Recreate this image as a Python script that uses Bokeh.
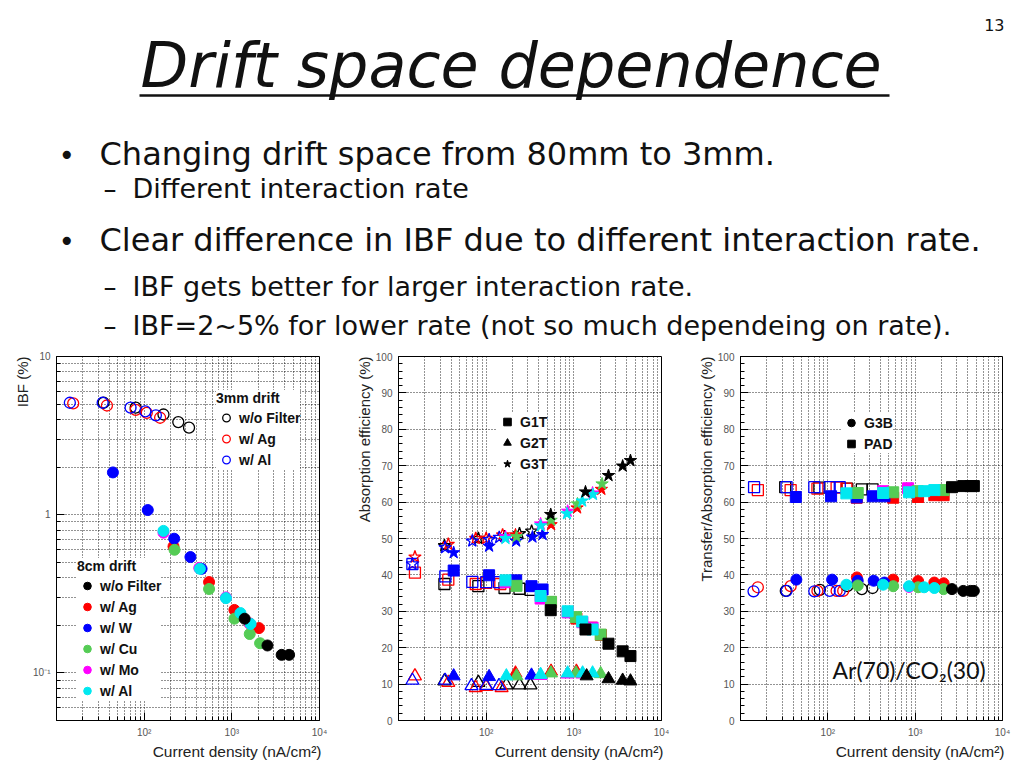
import math
from bokeh.plotting import figure
from bokeh.layouts import column, row
from bokeh.models import (Range1d, Label, Legend, LegendItem, FixedTicker, Title,
                          SingleIntervalTicker, CustomJSTickFormatter)
from bokeh.embed import file_html
from bokeh.resources import INLINE

# ---------------- slide text ----------------
title_text = "Drift space dependence"
slide_number = "13"
bullet_1 = "Changing drift space from 80mm to 3mm."
sub_1 = "Different interaction rate"
bullet_2 = "Clear difference in IBF due to different interaction rate."
sub_2 = "IBF gets better for larger interaction rate."
sub_3 = "IBF=2~5% for lower rate (not so much dependeing on rate)."
gas_text = "Ar(70)/CO\u2082(30)"

# ---------------- Plot 1: IBF (%) vs current density ----------------
ibf_3mm_none_x = [34.5, 80, 166, 245, 325]
ibf_3mm_none_y = [5.1, 4.75, 4.3, 3.85, 3.55]
ibf_3mm_ag_x = [15.5, 37.6, 80, 107, 152]
ibf_3mm_ag_y = [5.05, 4.9, 4.6, 4.4, 4.1]
ibf_3mm_al_x = [14.2, 33.6, 70, 103, 136]
ibf_3mm_al_y = [5.1, 5.1, 4.75, 4.5, 4.25]

ibf_8cm_none_x = [1400, 2550, 3700, 4500]
ibf_8cm_none_y = [0.22, 0.149, 0.13, 0.13]
ibf_8cm_ag_x = [216, 550, 1070, 1600, 2040]
ibf_8cm_ag_y = [0.63, 0.375, 0.25, 0.205, 0.192]
ibf_8cm_w_x = [44, 110, 220, 337, 452]
ibf_8cm_w_y = [1.85, 1.07, 0.705, 0.54, 0.455]
ibf_8cm_cu_x = [222, 550, 1070, 1600, 2100]
ibf_8cm_cu_y = [0.60, 0.339, 0.22, 0.176, 0.154]
ibf_8cm_mo_x = [166, 425, 857, 1600]
ibf_8cm_mo_y = [0.77, 0.46, 0.30, 0.205]
ibf_8cm_al_x = [166, 432, 857, 1254, 1636]
ibf_8cm_al_y = [0.79, 0.455, 0.297, 0.239, 0.204]

# ---------------- Plot 2: absorption efficiency (%) ----------------
# G1T (squares)
g1t_3mm_none_x = [33.4, 81.5, 162, 240, 320]
g1t_3mm_none_y = [37.5, 36.9, 36.4, 36.2, 35.9]
g1t_3mm_ag_x = [15.4, 37, 76, 100, 145]
g1t_3mm_ag_y = [40.6, 38.7, 37.5, 37.8, 37.5]
g1t_3mm_al_x = [14.4, 34.2, 69.5, 100, 140]
g1t_3mm_al_y = [43.0, 39.6, 38.1, 38.0, 38.0]
g1t_8cm_none_x = [545, 1358, 2485, 3605, 4425]
g1t_8cm_none_y = [30.3, 25.0, 21.1, 19.0, 17.7]
g1t_8cm_ag_x = [216, 550, 1070, 1600, 2040]
g1t_8cm_ag_y = [37.5, 32.5, 28.0, 25.5, 23.5]
g1t_8cm_w_x = [42.6, 108, 220, 329, 440]
g1t_8cm_w_y = [41.2, 39.9, 38.5, 36.9, 36.0]
g1t_8cm_cu_x = [222, 549, 1058, 2023]
g1t_8cm_cu_y = [37.0, 32.6, 28.4, 23.6]
g1t_8cm_mo_x = [166, 418, 850, 1250, 1636]
g1t_8cm_mo_y = [38.0, 33.5, 29.7, 27.0, 25.5]
g1t_8cm_al_x = [166, 418, 850, 1245, 1636]
g1t_8cm_al_y = [38.5, 34.2, 30.0, 27.2, 25.0]
# G2T (triangles)
g2t_3mm_none_x = [33.4, 81.5, 170, 240, 320]
g2t_3mm_none_y = [10.8, 10.4, 9.7, 9.7, 9.7]
g2t_3mm_ag_x = [15.4, 37, 76, 100, 150]
g2t_3mm_ag_y = [12.2, 10.4, 9.0, 9.3, 9.0]
g2t_3mm_al_x = [14.4, 34, 68, 100, 140]
g2t_3mm_al_y = [11.0, 11.0, 9.5, 9.6, 9.5]
g2t_8cm_none_x = [1400, 2485, 3605, 4425]
g2t_8cm_none_y = [12.2, 11.4, 11.0, 10.8]
g2t_8cm_ag_x = [216, 550, 1070]
g2t_8cm_ag_y = [13.0, 13.5, 13.5]
g2t_8cm_w_x = [42.6, 108, 329]
g2t_8cm_w_y = [12.2, 12.0, 12.4]
g2t_8cm_cu_x = [222, 549, 1058, 2023]
g2t_8cm_cu_y = [12.2, 13.0, 13.0, 12.8]
g2t_8cm_mo_x = [418, 850, 1250]
g2t_8cm_mo_y = [12.3, 12.7, 12.7]
g2t_8cm_al_x = [170, 418, 850, 1260, 1636]
g2t_8cm_al_y = [12.2, 12.6, 13.0, 13.0, 13.0]
# G3T (stars)
g3t_3mm_none_x = [33.4, 81.5, 162, 240, 330]
g3t_3mm_none_y = [48.0, 50.0, 50.5, 51.3, 52.0]
g3t_3mm_ag_x = [15.4, 37, 76, 100, 154]
g3t_3mm_ag_y = [44.9, 48.4, 50.0, 50.0, 51.0]
g3t_3mm_al_x = [14.4, 34, 69.5, 108, 141]
g3t_3mm_al_y = [43.0, 47.5, 49.3, 49.7, 50.3]
g3t_8cm_none_x = [545, 1358, 2485, 3605, 4425]
g3t_8cm_none_y = [56.6, 62.8, 67.3, 69.9, 71.4]
g3t_8cm_ag_x = [216, 550, 1090, 2060]
g3t_8cm_ag_y = [51.0, 53.8, 58.4, 63.5]
g3t_8cm_w_x = [42.6, 108, 220, 337, 440]
g3t_8cm_w_y = [46.1, 47.9, 49.3, 50.4, 51.1]
g3t_8cm_cu_x = [222, 550, 1100, 2100]
g3t_8cm_cu_y = [50.5, 55.0, 59.5, 65.0]
g3t_8cm_mo_x = [166, 418, 850, 1636]
g3t_8cm_mo_y = [50.5, 54.0, 57.5, 62.5]
g3t_8cm_al_x = [166, 418, 835, 1245, 1650]
g3t_8cm_al_y = [50.0, 53.5, 56.8, 60.3, 62.1]

# ---------------- Plot 3: transfer / absorption efficiency (%) ----------------
# PAD (squares)
pad_3mm_none_x = [32.5, 80, 167, 245, 325]
pad_3mm_none_y = [64.1, 64.0, 63.7, 63.5, 63.5]
pad_3mm_ag_x = [15.8, 37.5, 76, 126, 163]
pad_3mm_ag_y = [63.3, 63.3, 63.7, 64.0, 63.7]
pad_3mm_al_x = [14.3, 33.7, 70, 105, 137]
pad_3mm_al_y = [64.1, 64.1, 64.1, 64.1, 64.1]
pad_8cm_none_x = [2640, 3550, 4300, 4700]
pad_8cm_none_y = [64.1, 64.4, 64.4, 64.4]
pad_8cm_ag_x = [214, 560, 1080, 1657, 2118]
pad_8cm_ag_y = [61.2, 61.2, 61.4, 61.9, 61.9]
pad_8cm_w_x = [43, 109, 214, 327, 445]
pad_8cm_w_y = [61.4, 61.6, 61.3, 61.6, 61.6]
pad_8cm_cu_x = [220, 560, 1067, 2118]
pad_8cm_cu_y = [62.5, 62.7, 63.0, 63.3]
pad_8cm_mo_x = [430, 830]
pad_8cm_mo_y = [63.0, 63.8]
pad_8cm_al_x = [163, 430, 851, 1267, 1657]
pad_8cm_al_y = [62.4, 62.5, 62.7, 63.0, 63.3]
# G3B (circles)
g3b_3mm_none_x = [33, 81, 167, 245, 325]
g3b_3mm_none_y = [35.6, 35.9, 36.9, 36.1, 36.4]
g3b_3mm_ag_x = [15.8, 37.5, 76, 126, 150]
g3b_3mm_ag_y = [36.6, 36.9, 35.6, 35.6, 35.6]
g3b_3mm_al_x = [14.1, 33.7, 70, 105, 137]
g3b_3mm_al_y = [35.5, 35.6, 35.5, 35.6, 35.6]
g3b_8cm_none_x = [2640, 3550, 4300, 4700]
g3b_8cm_none_y = [36.1, 35.6, 35.6, 35.6]
g3b_8cm_ag_x = [215, 560, 1080, 1657, 2118]
g3b_8cm_ag_y = [39.3, 38.7, 38.3, 37.9, 37.7]
g3b_8cm_w_x = [43.6, 112, 220, 335, 445]
g3b_8cm_w_y = [38.7, 38.7, 38.4, 38.4, 37.9]
g3b_8cm_cu_x = [220, 560, 1080, 2118]
g3b_8cm_cu_y = [37.1, 36.9, 36.6, 36.1]
g3b_8cm_mo_x = [851]
g3b_8cm_mo_y = [36.7]
g3b_8cm_al_x = [163, 430, 851, 1267, 1657]
g3b_8cm_al_y = [37.3, 37.3, 36.9, 36.6, 36.4]

legend_3mm = ["w/o Filter", "w/ Ag", "w/ Al"]
legend_8cm = ["w/o Filter", "w/ Ag", "w/ W", "w/ Cu", "w/ Mo", "w/ Al"]

COL = {"none": "#000000", "ag": "#ff0000", "w": "#0000ff",
       "cu": "#55cc55", "mo": "#ff00ff", "al": "#00e8f0"}

SLIDE_FONT = "DejaVu Sans"
ROOT_FONT = "Liberation Sans"
OFF = 1          # observed page offset of the layout
BASE_K = 0.365   # alphabetic baseline correction (fraction of font size)

# ---------------- header (slide text) ----------------
HDR_H = 346
hdr = figure(width=1008, height=HDR_H, x_range=Range1d(0, 1008), y_range=Range1d(HDR_H, 0),
             x_axis_type=None, y_axis_type=None, output_backend="svg",
             toolbar_location=None, min_border=0)
hdr.grid.visible = False
hdr.outline_line_color = None


def htext(x, y, txt, size, style="normal", align="left"):
    hdr.add_layout(Label(x=x - OFF, y=y - OFF - BASE_K * size, text=txt,
                         text_font=SLIDE_FONT, text_font_size=f"{size}px",
                         text_font_style=style, text_color="#111111",
                         text_align=align, text_baseline="alphabetic"))


htext(141, 89, title_text, 62, "italic")
hdr.segment(x0=[140 - OFF], y0=[96 - OFF], x1=[890 - OFF], y1=[96 - OFF],
            line_color="#111111", line_width=2.5)
htext(1005, 31, slide_number, 16, align="right")
htext(59, 166, "\u2022", 28)
htext(100, 166, bullet_1, 32)
htext(104, 199, "\u2013", 26)
htext(133, 199, sub_1, 27)
htext(59, 252, "\u2022", 28)
htext(100, 252, bullet_2, 32)
htext(104, 297, "\u2013", 26)
htext(133, 297, sub_2, 27)
htext(104, 336, "\u2013", 26)
htext(133, 336, sub_3, 27)

# ---------------- ROOT-style plots ----------------
log_fmt = CustomJSTickFormatter(code="""
const e = Math.round(Math.log10(tick));
const sup = {"-1": "\u207b\u00b9", "2": "\u00b2", "3": "\u00b3", "4": "\u2074"};
if (e == 0) return "1";
if (e == 1) return "10";
return "10" + sup[String(e)];
""")


def decade_minors(lo_exp, hi_exp):
    out = []
    for e in range(lo_exp, hi_exp):
        out += [k * 10.0 ** e for k in range(2, 10)]
    return out


x_ticker = FixedTicker(ticks=[100, 1000, 10000], minor_ticks=decade_minors(1, 4))
PLOT_TOP = 357 - OFF - HDR_H


def make_plot(width, border_left, border_right, y_type, y_range, y_label):
    p = figure(width=width, height=PLOT_TOP + 364 + 40, x_axis_type="log", y_axis_type=y_type,
               x_range=Range1d(10, 10000), y_range=y_range,
               output_backend="svg", toolbar_location=None,
               min_border_left=border_left, min_border_right=border_right,
               min_border_top=PLOT_TOP, min_border_bottom=40)
    p.outline_line_color = "black"
    p.outline_line_width = 1
    p.background_fill_color = "white"
    p.xaxis.ticker = x_ticker
    p.xaxis.formatter = log_fmt
    for ax in (p.xaxis, p.yaxis):
        ax.major_tick_in = 8
        ax.major_tick_out = 0
        ax.minor_tick_in = 4
        ax.minor_tick_out = 0
        ax.axis_line_color = "black"
        ax.major_tick_line_color = "black"
        ax.minor_tick_line_color = "black"
        ax.major_label_text_font = ROOT_FONT
        ax.major_label_text_font_size = "10px"
        ax.major_label_text_color = "#555555"
    p.xaxis.major_label_standoff = 6
    p.yaxis.major_label_standoff = 6
    for g in (p.xgrid, p.ygrid):
        g.grid_line_color = "black"
        g.grid_line_dash = "1 2"
        g.grid_line_alpha = 0.85
    p.xgrid.minor_grid_line_color = "black"
    p.xgrid.minor_grid_line_dash = "1 2"
    p.xgrid.minor_grid_line_alpha = 0.85
    # axis titles, ROOT style (aligned to the axis ends)
    p.add_layout(Title(text=y_label, align="right", text_font=ROOT_FONT,
                       text_font_size="15px", text_font_style="normal",
                       text_color="#222222", standoff=0), "left")
    p.add_layout(Title(text="Current density (nA/cm\u00b2)", align="right",
                       text_font=ROOT_FONT, text_font_size="15.5px",
                       text_font_style="normal", text_color="#222222",
                       standoff=0, offset=-2), "below")
    return p


def pts(p, x, y, marker, color, filled, size=10):
    return p.scatter(x, y, marker=marker, size=size,
                     fill_color=color if filled else None,
                     line_color=color, line_width=1 if filled else 1.3)


def legend(p, items, loc, title=None):
    kw = dict(items=items, location=loc, background_fill_color="white",
              background_fill_alpha=1, border_line_color=None,
              label_text_font=ROOT_FONT, label_text_font_style="bold",
              label_text_font_size="14px", label_text_color="#111111",
              glyph_width=20, glyph_height=19, label_height=19,
              spacing=2, padding=4, margin=0, label_standoff=3)
    if title:
        kw.update(title=title, title_text_font=ROOT_FONT,
                  title_text_font_style="bold", title_text_font_size="14px",
                  title_text_color="#111111", title_standoff=2)
    p.add_layout(Legend(**kw))


# ---- Plot 1 ----
p1 = make_plot(349, 56, 30, "log", Range1d(0.05, 10), "IBF (%)")
p1.yaxis.ticker = FixedTicker(ticks=[0.1, 1, 10], minor_ticks=decade_minors(-2, 1))
p1.yaxis.formatter = log_fmt
p1.ygrid.minor_grid_line_color = "black"
p1.ygrid.minor_grid_line_dash = "1 2"
p1.ygrid.minor_grid_line_alpha = 0.85

o_none = pts(p1, ibf_3mm_none_x, ibf_3mm_none_y, "circle", COL["none"], False, 11)
o_ag = pts(p1, ibf_3mm_ag_x, ibf_3mm_ag_y, "circle", COL["ag"], False, 11)
o_al = pts(p1, ibf_3mm_al_x, ibf_3mm_al_y, "circle", COL["w"], False, 11)
f_ag = pts(p1, ibf_8cm_ag_x, ibf_8cm_ag_y, "circle", COL["ag"], True, 11)
f_mo = pts(p1, ibf_8cm_mo_x, ibf_8cm_mo_y, "circle", COL["mo"], True, 11)
f_w = pts(p1, ibf_8cm_w_x, ibf_8cm_w_y, "circle", COL["w"], True, 11)
f_cu = pts(p1, ibf_8cm_cu_x, ibf_8cm_cu_y, "circle", COL["cu"], True, 11)
f_al = pts(p1, ibf_8cm_al_x, ibf_8cm_al_y, "circle", COL["al"], True, 11)
f_none = pts(p1, ibf_8cm_none_x, ibf_8cm_none_y, "circle", COL["none"], True, 11)

legend(p1, [LegendItem(label=legend_3mm[0], renderers=[o_none]),
            LegendItem(label=legend_3mm[1], renderers=[o_ag]),
            LegendItem(label=legend_3mm[2], renderers=[o_al])],
       (160, 251), "3mm drift")
legend(p1, [LegendItem(label=legend_8cm[0], renderers=[f_none]),
            LegendItem(label=legend_8cm[1], renderers=[f_ag]),
            LegendItem(label=legend_8cm[2], renderers=[f_w]),
            LegendItem(label=legend_8cm[3], renderers=[f_cu]),
            LegendItem(label=legend_8cm[4], renderers=[f_mo]),
            LegendItem(label=legend_8cm[5], renderers=[f_al])],
       (21, 20), "8cm drift")


def lin_plot(width, border_right, y_label):
    p = make_plot(width, 49, border_right, "linear", Range1d(0, 100), y_label)
    p.yaxis.ticker = SingleIntervalTicker(interval=10, num_minor_ticks=5)
    return p


# ---- Plot 2 ----
p2 = lin_plot(342, 30, "Absorption efficiency (%)")
series2 = [
    ("square", g1t_3mm_none_x, g1t_3mm_none_y, "none", False),
    ("square", g1t_3mm_ag_x, g1t_3mm_ag_y, "ag", False),
    ("square", g1t_3mm_al_x, g1t_3mm_al_y, "w", False),
    ("triangle", g2t_3mm_none_x, g2t_3mm_none_y, "none", False),
    ("triangle", g2t_3mm_ag_x, g2t_3mm_ag_y, "ag", False),
    ("triangle", g2t_3mm_al_x, g2t_3mm_al_y, "w", False),
    ("star", g3t_3mm_none_x, g3t_3mm_none_y, "none", False),
    ("star", g3t_3mm_ag_x, g3t_3mm_ag_y, "ag", False),
    ("star", g3t_3mm_al_x, g3t_3mm_al_y, "w", False),
]
for m, pre in (("square", "g1t"), ("triangle", "g2t"), ("star", "g3t")):
    for k in ("ag", "w", "mo", "cu", "al", "none"):
        series2.append((m, globals()[f"{pre}_8cm_{k}_x"], globals()[f"{pre}_8cm_{k}_y"], k, True))
r2 = {}
for m, x, y, k, filled in series2:
    r = pts(p2, x, y, m, COL[k], filled, {"square": 11, "triangle": 13, "star": 13}[m])
    if filled and k == "none":
        r2[m] = r
legend(p2, [LegendItem(label="G1T", renderers=[r2["square"]]),
            LegendItem(label="G2T", renderers=[r2["triangle"]]),
            LegendItem(label="G3T", renderers=[r2["star"]])],
       (99, 247))

# ---- Plot 3 ----
p3 = lin_plot(323, 12, "Transfer/Absorption efficiency (%)")
series3 = [
    ("square", pad_3mm_none_x, pad_3mm_none_y, "none", False),
    ("square", pad_3mm_ag_x, pad_3mm_ag_y, "ag", False),
    ("square", pad_3mm_al_x, pad_3mm_al_y, "w", False),
    ("circle", g3b_3mm_none_x, g3b_3mm_none_y, "none", False),
    ("circle", g3b_3mm_ag_x, g3b_3mm_ag_y, "ag", False),
    ("circle", g3b_3mm_al_x, g3b_3mm_al_y, "w", False),
]
for m, pre in (("square", "pad"), ("circle", "g3b")):
    for k in ("ag", "w", "mo", "cu", "al", "none"):
        series3.append((m, globals()[f"{pre}_8cm_{k}_x"], globals()[f"{pre}_8cm_{k}_y"], k, True))
r3 = {}
for m, x, y, k, filled in series3:
    r = pts(p3, x, y, m, COL[k], filled, 11)
    if filled and k == "none":
        r3[m] = r
legend(p3, [LegendItem(label="G3B", renderers=[r3["circle"]]),
            LegendItem(label="PAD", renderers=[r3["square"]])],
       (101, 267))
p3.add_layout(Label(x=92, y=51, x_units="screen", y_units="screen", text=gas_text,
                    text_font="Lato", text_font_size="23px", text_color="#111111",
                    text_align="left", text_baseline="alphabetic"))

page = column(hdr, row(p1, p2, p3, spacing=0), spacing=0)
open("out.html", "w").write(file_html(page, INLINE, title="Drift space dependence"))
